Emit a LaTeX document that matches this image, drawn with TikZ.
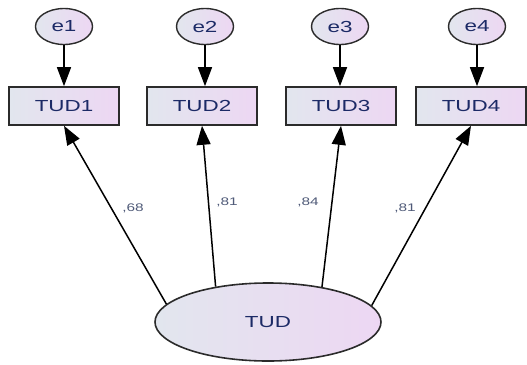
\documentclass[tikz,border=0pt]{standalone}
\usepackage{fontspec}
\newfontfamily\amosfont[FakeStretch=1.4]{Liberation Sans}
\usetikzlibrary{arrows.meta,shapes.geometric}
\definecolor{fillL}{HTML}{E2E6EE}
\definecolor{fillR}{HTML}{EDD7F3}
\definecolor{namecol}{HTML}{1C2A66}
\definecolor{coefcol}{HTML}{4F5A78}
\definecolor{edgecol}{HTML}{2B2B2B}

\begin{document}
\begin{tikzpicture}[x=1pt,y=-1pt,
  shaded/.style={draw=edgecol, left color=fillL, right color=fillR, text=namecol, inner sep=0pt},
  obs/.style={shaded, rectangle, line width=1.6pt, minimum width=110pt, minimum height=38pt,
    font=\amosfont\fontsize{16}{18}\selectfont},
  err/.style={shaded, ellipse, line width=1.4pt, minimum width=57pt, minimum height=36pt,
    font=\amosfont\fontsize{16}{18}\selectfont},
  lat/.style={shaded, ellipse, line width=1.6pt, minimum width=226pt, minimum height=78pt,
    font=\amosfont\fontsize{16}{18}\selectfont},
  regpath/.style={draw=black, line width=1.5pt, -{Triangle[length=19pt,width=14pt]}},
  coef/.style={font=\amosfont\fontsize{11}{13}\selectfont, text=coefcol, inner sep=0pt}
]
\useasboundingbox (0,0) rectangle (527,364);

% error terms
\node[err] (e1) at (64,26.5) {e1};
\node[err] (e2) at (205,26.5) {e2};
\node[err] (e3) at (340,26.5) {e3};
\node[err] (e4) at (477,26.5) {e4};

% observed indicators
\node[obs] (tud1) at (64,106) {TUD1};
\node[obs] (tud2) at (202,106) {TUD2};
\node[obs] (tud3) at (341,106) {TUD3};
\node[obs] (tud4) at (471,106) {TUD4};

% latent factor
\node[lat] (tud) at (268,322) {TUD};

% error paths
\draw[regpath] (e1) -- (e1 |- tud1.north);
\draw[regpath] (e2) -- (e2 |- tud2.north);
\draw[regpath] (e3) -- (e3 |- tud3.north);
\draw[regpath] (e4) -- (e4 |- tud4.north);

% factor loadings
\draw[regpath] (tud.170) -- (tud1.south);
\draw[regpath] (tud.146) -- (tud2.south);
\draw[regpath] (tud.33) -- (tud3.south);
\draw[regpath] (tud.9) -- (tud4.south);

\node[coef] (l1) at (133,208) {,68};
\node[coef] (l2) at (227,202) {,81};
\node[coef] (l3) at (308,202) {,84};
\node[coef] (l4) at (405,208) {,81};
\end{tikzpicture}
\end{document}
